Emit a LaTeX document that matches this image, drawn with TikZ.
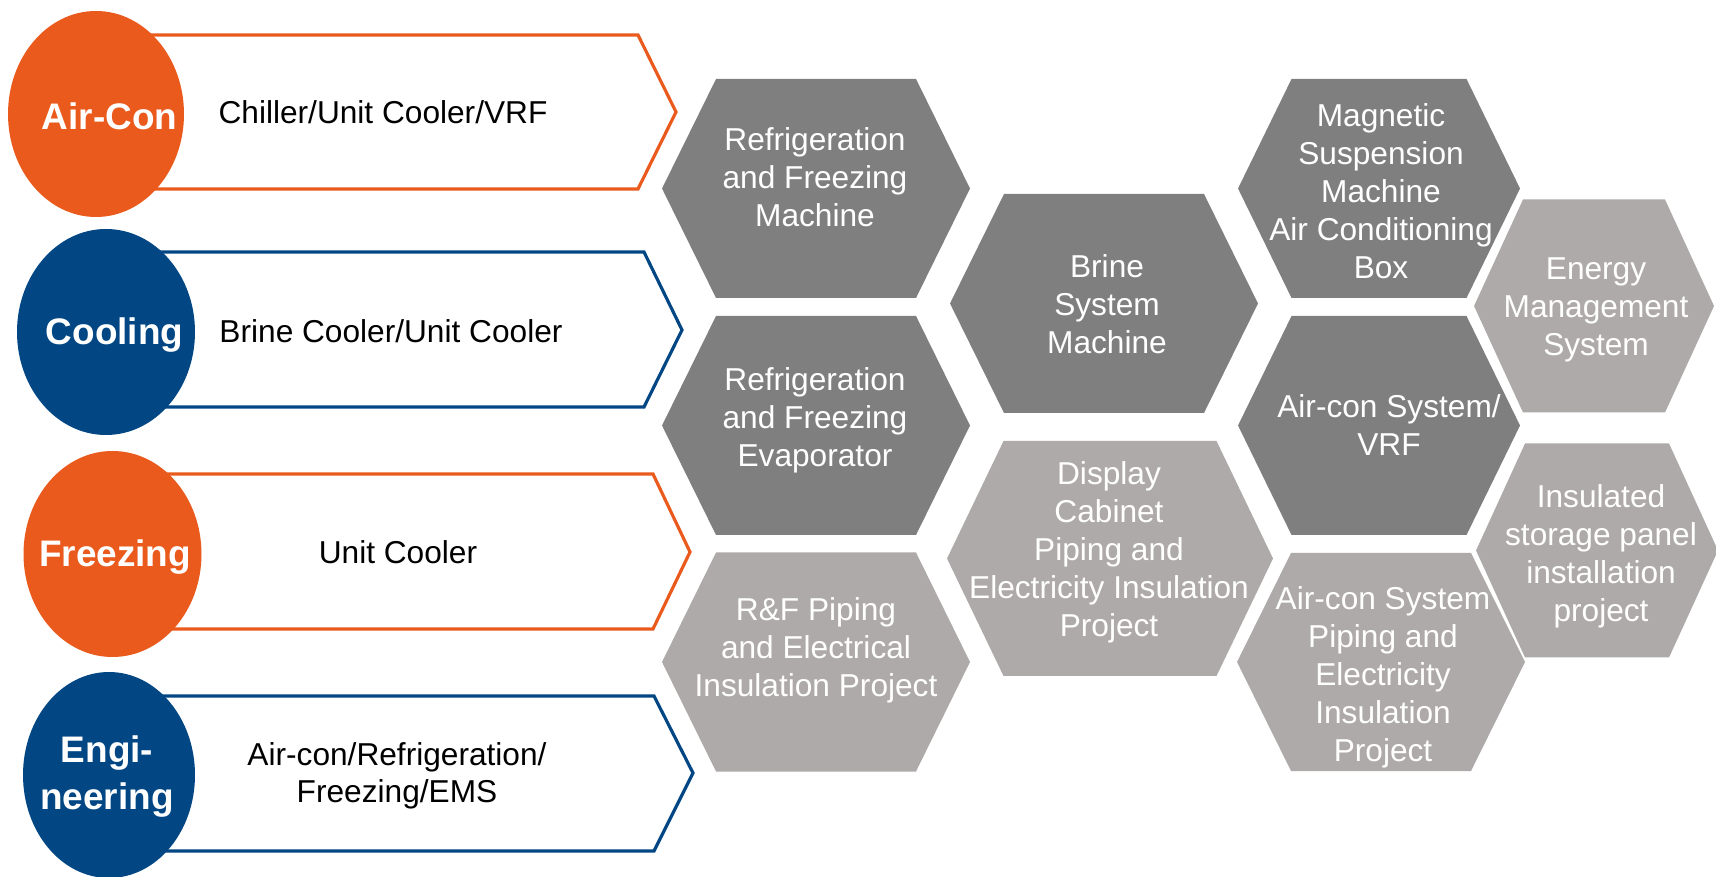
\documentclass[tikz,border=0pt]{standalone}
\usepackage{fontspec}
\setmainfont{Liberation Sans}
\definecolor{Orange}{HTML}{E95A1C}
\definecolor{Marine}{HTML}{024784}
\definecolor{DarkGrey}{HTML}{7F7F7F}
\definecolor{LightGrey}{HTML}{AEAAA9}
\tikzset{
hextext/.style={text=white,align=center,inner sep=0pt,font=\fontsize{9pt}{10.8pt}\selectfont},
tagtext/.style={text=white,align=center,inner sep=0pt,font=\fontsize{10.5pt}{13.3pt}\selectfont\bfseries},
bartext/.style={text=black,align=center,inner sep=0pt,font=\fontsize{9pt}{10.4pt}\selectfont}}

\begin{document}
\begin{tikzpicture}[x=.01cm,y=-.01cm,line width=.9pt,line join=miter]
\useasboundingbox(0,0)rectangle(1716,877);
\draw[Orange](96,35)--(638,35)--(676,112)--(638,189)--(96,189);
\draw[Marine](106,252)--(644,252)--(682,330)--(644,407)--(106,407);
\draw[Orange](112,474)--(653,474)--(690,552)--(653,629)--(112,629);
\draw[Marine](109,696)--(654,696)--(693,773)--(654,851)--(109,851);
\fill[Orange](96,114)ellipse(88 and 103);
\fill[Marine](106,332)ellipse(89 and 103);
\fill[Orange](112.5,554)ellipse(89 and 103);
\fill[Marine](109,775)ellipse(86 and 103);
\foreach \x/\y/\n/\s in {109.5/116/aircon/Air-Con,114.5/335/cooling/Cooling,115/557/freezing/Freezing,107/776.5/engineering/{Engi-\\neering}}{
\node[tagtext](\n)at(\x,\y){\s};}
\node[bartext](chiller)at(383,112.5){Chiller/Unit Cooler/VRF};
\node[bartext](brine)at(391,331){Brine Cooler/Unit Cooler};
\node[bartext](unitcooler)at(398,552){Unit Cooler};
\node[bartext](allfields)at(397,776){Air-con/Refrigeration/\\Freezing/EMS};
\foreach \x/\y/\w/\t/\h/\c/\tx/\ty/\n/\s in {
816/188.5/154/100/109.5/DarkGrey/815/177/rfm/{Refrigeration\\and Freezing\\Machine},
816/425.5/154/100/109.5/DarkGrey/815/420/rfe/{Refrigeration\\and Freezing\\Evaporator},
816/662/154/100/109.5/LightGrey/816/650/rfp/{R\&F Piping\\and Electrical\\Insulation Project},
1104/303.5/154/100/109.5/DarkGrey/1107/304/bsm/{Brine\\System\\Machine},
1110/558.5/163/106.5/117.5/LightGrey/1109/552/dcp/{Display\\Cabinet\\Piping and\\Electricity Insulation\\Project},
1379/188.5/141/87.5/109.5/DarkGrey/1381/191/msm/{Magnetic\\Suspension\\Machine\\Air Conditioning\\Box},
1379/425.5/141/87.5/109.5/DarkGrey/1389/425/acs/{Air-con System/\\VRF},
1381/662/144/90/109/LightGrey/1383/677/acp/{Air-con System\\Piping and\\Electricity\\Insulation\\Project},
1594/306/120/71/106.5/LightGrey/1596/310/ems/{Energy\\Management\\System},
1597/550.5/121/72/107/LightGrey/1601/556.5/isp/{Insulated\\storage panel\\installation\\project}}{
\fill[\c](\x-\w,\y)--(\x-\t,\y-\h)--(\x+\t,\y-\h)--(\x+\w,\y)--(\x+\t,\y+\h)--(\x-\t,\y+\h)--cycle;
\node[hextext](\n)at(\tx,\ty){\s};}
\end{tikzpicture}
\end{document}
